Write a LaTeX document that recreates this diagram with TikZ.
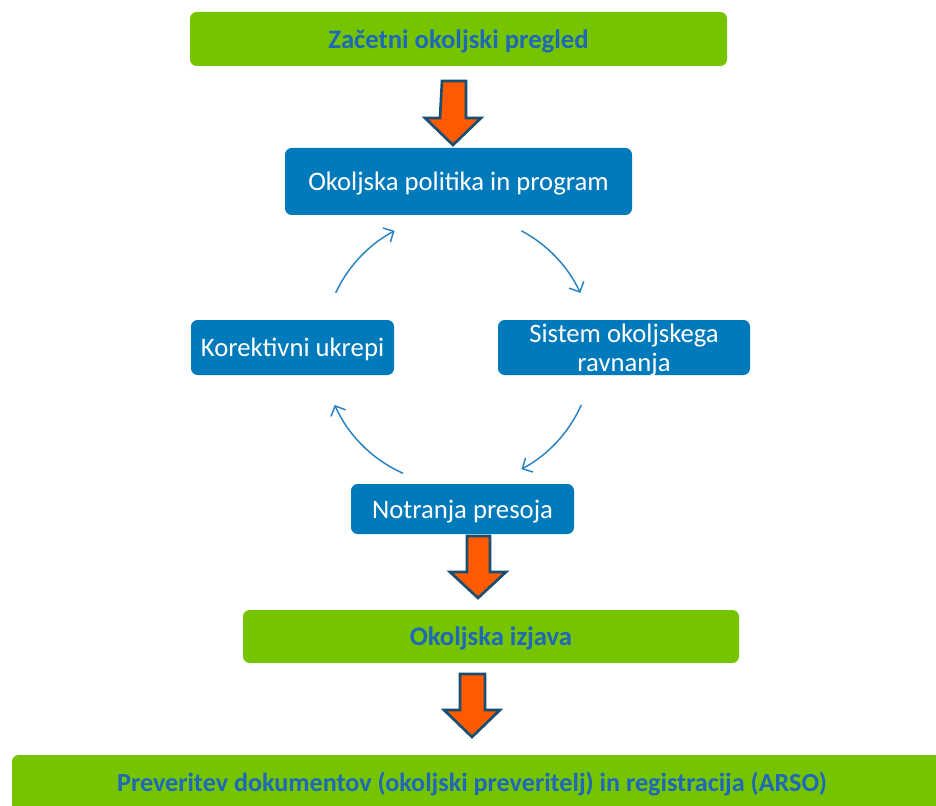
\documentclass[tikz,border=0pt]{standalone}
\usepackage{fontspec}
\setmainfont{Carlito}
\usetikzlibrary{arrows.meta}
\definecolor{gfill}{RGB}{118,196,0}
\definecolor{bfill}{RGB}{0,122,186}
\definecolor{gtxt}{RGB}{30,104,184}
\definecolor{arrfill}{RGB}{255,90,0}
\definecolor{arrline}{RGB}{24,78,112}
\definecolor{cyc}{RGB}{40,130,195}
\begin{document}
\begin{tikzpicture}[x=0.75pt,y=0.75pt,
  gbox/.style={fill=gfill,rounded corners=5pt,inner sep=0pt,text depth=0pt,font=\fontsize{20}{24}\selectfont\bfseries,text=gtxt},
  bbox/.style={fill=bfill,rounded corners=5pt,inner sep=0pt,text depth=0pt,align=center,font=\fontsize{20}{21.75}\selectfont,text=white},
  cycarrow/.style={draw=cyc,line width=1.1pt,-{Straight Barb[length=6pt,width=12pt]}},
  fatarrow/.style={fill=arrfill,draw=arrline,line width=2pt,line join=miter}]
\useasboundingbox (0,0) rectangle (936,-806);
% boxes
\node[gbox,minimum width=402.75pt,minimum height=40.5pt] (init) at (458.5,-39) {Začetni okoljski pregled};
\node[bbox,minimum width=260.25pt,minimum height=50.25pt] (pol) at (458.5,-181.5) {Okoljska politika in program};
\node[bbox,minimum width=152.25pt,minimum height=41.25pt] (kor) at (292.5,-347.5) {Korektivni ukrepi};
\node[bbox,minimum width=189pt,minimum height=41.25pt] (sis) at (624,-347.5) {Sistem okoljskega\\ravnanja};
\node[bbox,minimum width=167.25pt,minimum height=37.5pt] (not) at (462.5,-509) {Notranja presoja};
\node[gbox,minimum width=372pt,minimum height=39.75pt] (izj) at (491,-636.5) {Okoljska izjava};
\node[gbox,minimum width=711pt,minimum height=45pt] (reg) at (486,-785) {};
\node[font=\fontsize{19.6}{22}\selectfont\bfseries,text=gtxt,text depth=0pt] (regt) at (472,-782) {Preveritev dokumentov (okoljski preveritelj) in registracija (ARSO)};
% fat arrows
\draw[fatarrow] (442,-81) -- (466,-81) -- (466,-118) -- (481,-118) -- (453,-145) -- (425,-118) -- (440,-118) -- cycle;
\draw[fatarrow] (467,-536) -- (490,-536) -- (490,-572) -- (506,-572) -- (478,-598) -- (450,-572) -- (467,-572) -- cycle;
\draw[fatarrow] (460,-674) -- (485,-674) -- (485,-710) -- (500,-710) -- (472,-737) -- (444,-710) -- (460,-710) -- cycle;
% cycle arrows
\coordinate (c) at (458,-350);
\draw[cycarrow] ([shift={(155:101.25pt)}]c) arc[start angle=155,end angle=118,radius=101.25pt];
\draw[cycarrow] ([shift={(62:101.25pt)}]c) arc[start angle=62,end angle=25,radius=101.25pt];
\draw[cycarrow] ([shift={(-24:101.25pt)}]c) arc[start angle=-24,end angle=-62,radius=101.25pt];
\draw[cycarrow] ([shift={(-114:101.25pt)}]c) arc[start angle=-114,end angle=-156,radius=101.25pt];
\end{tikzpicture}
\end{document}
